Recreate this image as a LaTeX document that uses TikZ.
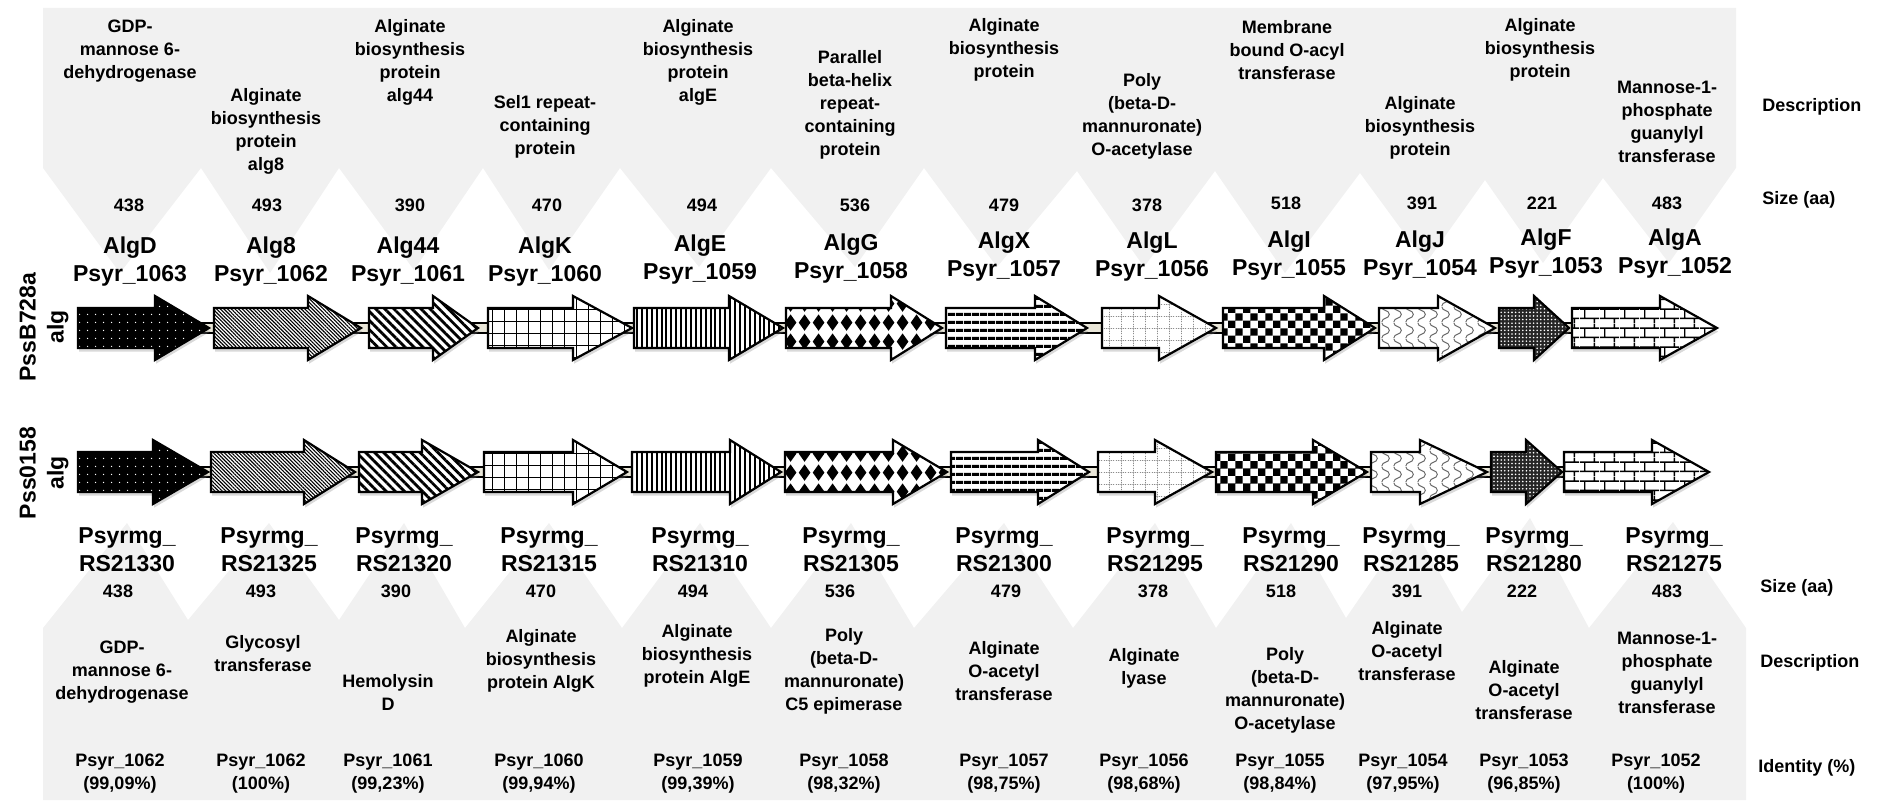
\documentclass[tikz,border=0pt]{standalone}
\usepackage{fontspec}
\setmainfont{Liberation Sans}
\usepackage{xcolor}
\usepackage{tikz}
\usetikzlibrary{patterns.meta,shadows}

\definecolor{bandgrey}{RGB}{241,241,241}
\definecolor{bbfill}{RGB}{233,230,216}

% fills that patterns.meta does not have
\pgfdeclarepatternformonly{diamondrows}{\pgfqpoint{0pt}{0pt}}{\pgfqpoint{7pt}{9.4pt}}{\pgfqpoint{7pt}{9.4pt}}{%
  \pgfpathmoveto{\pgfqpoint{3.5pt}{0.6pt}}%
  \pgfpathlineto{\pgfqpoint{6.6pt}{4.7pt}}%
  \pgfpathlineto{\pgfqpoint{3.5pt}{8.8pt}}%
  \pgfpathlineto{\pgfqpoint{0.4pt}{4.7pt}}%
  \pgfpathclose
  \pgfusepath{fill}}
\pgfdeclarepatternformonly{bigchecker}{\pgfqpoint{0pt}{0pt}}{\pgfqpoint{7.4pt}{7.4pt}}{\pgfqpoint{7.4pt}{7.4pt}}{%
  \pgfpathrectangle{\pgfqpoint{0pt}{0pt}}{\pgfqpoint{3.75pt}{3.75pt}}%
  \pgfpathrectangle{\pgfqpoint{3.7pt}{3.7pt}}{\pgfqpoint{3.7pt}{3.7pt}}%
  \pgfusepath{fill}}
\pgfdeclarepatternformonly{dotgrid}{\pgfqpoint{0pt}{0pt}}{\pgfqpoint{6pt}{6pt}}{\pgfqpoint{6pt}{6pt}}{%
  \pgfsetlinewidth{0.4pt}%
  \pgfsetdash{{0.6pt}{0.6pt}}{0pt}%
  \pgfpathmoveto{\pgfqpoint{0pt}{3pt}}\pgfpathlineto{\pgfqpoint{6pt}{3pt}}%
  \pgfpathmoveto{\pgfqpoint{3pt}{0pt}}\pgfpathlineto{\pgfqpoint{3pt}{6pt}}%
  \pgfusepath{stroke}}
\pgfdeclarepatternformonly{brickwall}{\pgfqpoint{0pt}{0pt}}{\pgfqpoint{10pt}{9.6pt}}{\pgfqpoint{10pt}{9.6pt}}{%
  \pgfsetlinewidth{0.7pt}%
  \pgfpathmoveto{\pgfqpoint{0pt}{2.4pt}}\pgfpathlineto{\pgfqpoint{10pt}{2.4pt}}%
  \pgfpathmoveto{\pgfqpoint{0pt}{7.2pt}}\pgfpathlineto{\pgfqpoint{10pt}{7.2pt}}%
  \pgfpathmoveto{\pgfqpoint{2.5pt}{2.4pt}}\pgfpathlineto{\pgfqpoint{2.5pt}{7.2pt}}%
  \pgfpathmoveto{\pgfqpoint{7.5pt}{7.2pt}}\pgfpathlineto{\pgfqpoint{7.5pt}{9.6pt}}%
  \pgfpathmoveto{\pgfqpoint{7.5pt}{0pt}}\pgfpathlineto{\pgfqpoint{7.5pt}{2.4pt}}%
  \pgfusepath{stroke}}
\pgfdeclarepatternformonly{wavelines}{\pgfqpoint{0pt}{0pt}}{\pgfqpoint{6pt}{8pt}}{\pgfqpoint{6pt}{8pt}}{%
  \pgfsetlinewidth{0.5pt}%
  \pgfpathmoveto{\pgfqpoint{1pt}{0pt}}%
  \pgfpathcurveto{\pgfqpoint{1pt}{2.5pt}}{\pgfqpoint{5pt}{1.5pt}}{\pgfqpoint{5pt}{4pt}}%
  \pgfpathcurveto{\pgfqpoint{5pt}{6.5pt}}{\pgfqpoint{1pt}{5.5pt}}{\pgfqpoint{1pt}{8pt}}%
  \pgfusepath{stroke}}

% gene arrow: start, head start, tip, centre line, fill style
\newcommand{\genearrow}[5]{%
  \draw[genebox,#5] (#1,#4-20) -- (#2,#4-20) -- (#2,#4-32) -- (#3,#4)
    -- (#2,#4+32) -- (#2,#4+20) -- (#1,#4+20) -- cycle;}

\begin{document}
\begin{tikzpicture}[x=0.5pt, y=-0.5pt,
    desc/.style={font=\bfseries\fontsize{9}{11.5}\selectfont, align=center, inner sep=0pt},
    gname/.style={font=\bfseries\fontsize{11.5}{14}\selectfont, align=center, inner sep=0pt},
    rowlabel/.style={font=\bfseries\fontsize{9}{11.5}\selectfont, anchor=west, inner sep=0pt},
    strain/.style={font=\bfseries\fontsize{11.5}{14}\selectfont, align=center, rotate=90, inner sep=0pt},
    band/.style={fill=bandgrey},
    backbone/.style={fill=bbfill, draw=black, line width=.6pt},
    genebox/.style={draw=black, line width=1.1pt, line join=miter,
      drop shadow={shadow xshift=.6pt, shadow yshift=-1.8pt, opacity=.3}},
    blackdots/.style={preaction={fill=black}, pattern={Dots[distance=4pt,radius=.4pt]}, pattern color=white},
    finestripes/.style={preaction={fill=white}, pattern={Lines[angle=-45,distance=1.3pt,line width=.55pt]}},
    widestripes/.style={preaction={fill=white}, pattern={Lines[angle=-45,distance=3.2pt,line width=1.4pt]}},
    gridfill/.style={preaction={fill=white}, pattern={Hatch[angle=0,distance=6pt,line width=.5pt]}},
    vstripes/.style={preaction={fill=white}, pattern={Lines[angle=90,distance=2.45pt,line width=1pt]}},
    diamondfill/.style={preaction={fill=white}, pattern=diamondrows},
    hstripes/.style={preaction={fill=white}, pattern={Lines[angle=0,distance=4pt,line width=1.6pt]}},
    dotgridfill/.style={preaction={fill=white}, pattern=dotgrid, pattern color=black!45},
    checkfill/.style={preaction={fill=white}, pattern=bigchecker},
    wavefill/.style={preaction={fill=white}, pattern=wavelines, pattern color=black!60},
    darkdots/.style={preaction={fill=black!85}, pattern={Dots[distance=1.8pt,radius=.45pt]}, pattern color=white},
    brickfill/.style={preaction={fill=white}, pattern=brickwall}]

    \useasboundingbox (0,0) rectangle (1881,802);

    % grey bands
    \fill[band] (43,8) -- (1736,8) -- (1736,168) -- (1669,263) -- (1603,178) -- (1543,263)
        -- (1485,180) -- (1426,263) -- (1360,173) -- (1285,273) -- (1215,171) -- (1144,267)
        -- (1077,171) -- (997,267) -- (924,168) -- (855,267) -- (771,168) -- (699,267)
        -- (620,168) -- (549,270) -- (483,168) -- (414,270) -- (339,168) -- (270,273)
        -- (201,168) -- (120,273) -- (43,168) -- cycle;
    \fill[band] (43,800) -- (43,628) -- (127,523) -- (188,620) -- (269,523) -- (339,620)
        -- (404,523) -- (465,628) -- (549,523) -- (622,628) -- (700,523) -- (771,628)
        -- (851,523) -- (914,628) -- (1004,523) -- (1073,628) -- (1155,523) -- (1216,628)
        -- (1291,523) -- (1346,618) -- (1411,523) -- (1462,612) -- (1530,518) -- (1589,628)
        -- (1673,522) -- (1746,628) -- (1746,800) -- cycle;

    % descriptions, B728a
    \node[desc] (dt1) at (130,51) {GDP-\\mannose 6-\\dehydrogenase};
    \node[desc] (dt2) at (266,131) {Alginate\\biosynthesis\\protein\\alg8};
    \node[desc] (dt3) at (410,62) {Alginate\\biosynthesis\\protein\\alg44};
    \node[desc] (dt4) at (545,127) {Sel1 repeat-\\containing\\protein};
    \node[desc] (dt5) at (698,62) {Alginate\\biosynthesis\\protein\\algE};
    \node[desc] (dt6) at (850,105) {Parallel\\beta-helix\\repeat-\\containing\\protein};
    \node[desc] (dt7) at (1004,50) {Alginate\\biosynthesis\\protein};
    \node[desc] (dt8) at (1142,116) {Poly\\(beta-D-\\mannuronate)\\O-acetylase};
    \node[desc] (dt9) at (1287,50) {Membrane\\bound O-acyl\\transferase};
    \node[desc] (dt10) at (1420,128) {Alginate\\biosynthesis\\protein};
    \node[desc] (dt11) at (1540,50) {Alginate\\biosynthesis\\protein};
    \node[desc] (dt12) at (1667,122) {Mannose-1-\\phosphate\\guanylyl\\transferase};

    % sizes, B728a
    \node[desc] (st1) at (129,205) {438};
    \node[desc] (st2) at (267,205) {493};
    \node[desc] (st3) at (410,205) {390};
    \node[desc] (st4) at (547,205) {470};
    \node[desc] (st5) at (702,205) {494};
    \node[desc] (st6) at (855,205) {536};
    \node[desc] (st7) at (1004,205) {479};
    \node[desc] (st8) at (1147,205) {378};
    \node[desc] (st9) at (1286,203) {518};
    \node[desc] (st10) at (1422,203) {391};
    \node[desc] (st11) at (1542,203) {221};
    \node[desc] (st12) at (1667,203) {483};

    % gene names, B728a
    \node[gname] (nt1) at (130,262) {AlgD\\Psyr\_1063};
    \node[gname] (nt2) at (271,262) {Alg8\\Psyr\_1062};
    \node[gname] (nt3) at (408,262) {Alg44\\Psyr\_1061};
    \node[gname] (nt4) at (545,262) {AlgK\\Psyr\_1060};
    \node[gname] (nt5) at (700,260) {AlgE\\Psyr\_1059};
    \node[gname] (nt6) at (851,259) {AlgG\\Psyr\_1058};
    \node[gname] (nt7) at (1004,257) {AlgX\\Psyr\_1057};
    \node[gname] (nt8) at (1152,257) {AlgL\\Psyr\_1056};
    \node[gname] (nt9) at (1289,256) {AlgI\\Psyr\_1055};
    \node[gname] (nt10) at (1420,256) {AlgJ\\Psyr\_1054};
    \node[gname] (nt11) at (1546,254) {AlgF\\Psyr\_1053};
    \node[gname] (nt12) at (1675,254) {AlgA\\Psyr\_1052};

    % strains
    \node[strain] (pss1) at (44,327) {PssB728a\\alg};
    \node[strain] (pss2) at (44,473) {Pss0158\\alg};

    % backbones
    \coordinate (bb1a) at (90,323);
    \coordinate (bb1b) at (1700,333);
    \coordinate (bb2a) at (90,467);
    \coordinate (bb2b) at (1700,477);
    \draw[backbone] (bb1a) rectangle (bb1b);
    \draw[backbone] (bb2a) rectangle (bb2b);

    % genes, B728a
    \genearrow{78}{155}{209}{328}{blackdots}
    \genearrow{214}{308}{361}{328}{finestripes}
    \genearrow{369}{433}{478}{328}{widestripes}
    \genearrow{488}{573}{632}{328}{gridfill}
    \genearrow{634}{729}{783}{328}{vstripes}
    \genearrow{786}{891}{942}{328}{diamondfill}
    \genearrow{946}{1035}{1087}{328}{hstripes}
    \genearrow{1102}{1159}{1216}{328}{dotgridfill}
    \genearrow{1223}{1324}{1375}{328}{checkfill}
    \genearrow{1379}{1438}{1495}{328}{wavefill}
    \genearrow{1499}{1534}{1569}{328}{darkdots}
    \genearrow{1572}{1660}{1717}{328}{brickfill}

    % genes, 0158
    \genearrow{78}{153}{208}{472}{blackdots}
    \genearrow{211}{304}{355}{472}{finestripes}
    \genearrow{359}{422}{478}{472}{widestripes}
    \genearrow{484}{573}{627}{472}{gridfill}
    \genearrow{632}{730}{781}{472}{vstripes}
    \genearrow{785}{893}{947}{472}{diamondfill}
    \genearrow{951}{1038}{1089}{472}{hstripes}
    \genearrow{1098}{1155}{1212}{472}{dotgridfill}
    \genearrow{1216}{1313}{1367}{472}{checkfill}
    \genearrow{1371}{1420}{1487}{472}{wavefill}
    \genearrow{1491}{1526}{1562}{472}{darkdots}
    \genearrow{1564}{1652}{1709}{472}{brickfill}

    % gene names, 0158
    \node[gname] (nb1) at (127,550) {Psyrmg\_\\RS21330};
    \node[gname] (nb2) at (269,550) {Psyrmg\_\\RS21325};
    \node[gname] (nb3) at (404,550) {Psyrmg\_\\RS21320};
    \node[gname] (nb4) at (549,550) {Psyrmg\_\\RS21315};
    \node[gname] (nb5) at (700,550) {Psyrmg\_\\RS21310};
    \node[gname] (nb6) at (851,550) {Psyrmg\_\\RS21305};
    \node[gname] (nb7) at (1004,550) {Psyrmg\_\\RS21300};
    \node[gname] (nb8) at (1155,550) {Psyrmg\_\\RS21295};
    \node[gname] (nb9) at (1291,550) {Psyrmg\_\\RS21290};
    \node[gname] (nb10) at (1411,550) {Psyrmg\_\\RS21285};
    \node[gname] (nb11) at (1534,550) {Psyrmg\_\\RS21280};
    \node[gname] (nb12) at (1674,550) {Psyrmg\_\\RS21275};

    % sizes, 0158
    \node[desc] (sb1) at (118,591) {438};
    \node[desc] (sb2) at (261,591) {493};
    \node[desc] (sb3) at (396,591) {390};
    \node[desc] (sb4) at (541,591) {470};
    \node[desc] (sb5) at (693,591) {494};
    \node[desc] (sb6) at (840,591) {536};
    \node[desc] (sb7) at (1006,591) {479};
    \node[desc] (sb8) at (1153,591) {378};
    \node[desc] (sb9) at (1281,591) {518};
    \node[desc] (sb10) at (1407,591) {391};
    \node[desc] (sb11) at (1522,591) {222};
    \node[desc] (sb12) at (1667,591) {483};

    % descriptions, 0158
    \node[desc] (db1) at (122,672) {GDP-\\mannose 6-\\dehydrogenase};
    \node[desc] (db2) at (263,654) {Glycosyl\\transferase};
    \node[desc] (db3) at (388,692) {Hemolysin\\D};
    \node[desc] (db4) at (541,661) {Alginate\\biosynthesis\\protein AlgK};
    \node[desc] (db5) at (697,656) {Alginate\\biosynthesis\\protein AlgE};
    \node[desc] (db6) at (844,671) {Poly\\(beta-D-\\mannuronate)\\C5 epimerase};
    \node[desc] (db7) at (1004,671) {Alginate\\O-acetyl\\transferase};
    \node[desc] (db8) at (1144,668) {Alginate\\lyase};
    \node[desc] (db9) at (1285,690) {Poly\\(beta-D-\\mannuronate)\\O-acetylase};
    \node[desc] (db10) at (1407,651) {Alginate\\O-acetyl\\transferase};
    \node[desc] (db11) at (1524,690) {Alginate\\O-acetyl\\transferase};
    \node[desc] (db12) at (1667,673) {Mannose-1-\\phosphate\\guanylyl\\transferase};

    % identity to B728a
    \node[desc] (id1) at (120,774) {Psyr\_1062\\(99,09\%)};
    \node[desc] (id2) at (261,774) {Psyr\_1062\\(100\%)};
    \node[desc] (id3) at (388,774) {Psyr\_1061\\(99,23\%)};
    \node[desc] (id4) at (539,774) {Psyr\_1060\\(99,94\%)};
    \node[desc] (id5) at (698,774) {Psyr\_1059\\(99,39\%)};
    \node[desc] (id6) at (844,774) {Psyr\_1058\\(98,32\%)};
    \node[desc] (id7) at (1004,774) {Psyr\_1057\\(98,75\%)};
    \node[desc] (id8) at (1144,774) {Psyr\_1056\\(98,68\%)};
    \node[desc] (id9) at (1280,774) {Psyr\_1055\\(98,84\%)};
    \node[desc] (id10) at (1403,774) {Psyr\_1054\\(97,95\%)};
    \node[desc] (id11) at (1524,774) {Psyr\_1053\\(96,85\%)};
    \node[desc] (id12) at (1656,774) {Psyr\_1052\\(100\%)};

    % row labels
    \node[rowlabel] (lab1) at (1762,107) {Description};
    \node[rowlabel] (lab2) at (1762,200) {Size (aa)};
    \node[rowlabel] (lab3) at (1760,588) {Size (aa)};
    \node[rowlabel] (lab4) at (1760,663) {Description};
    \node[rowlabel] (lab5) at (1758,768) {Identity (\%)};
\end{tikzpicture}
\end{document}
